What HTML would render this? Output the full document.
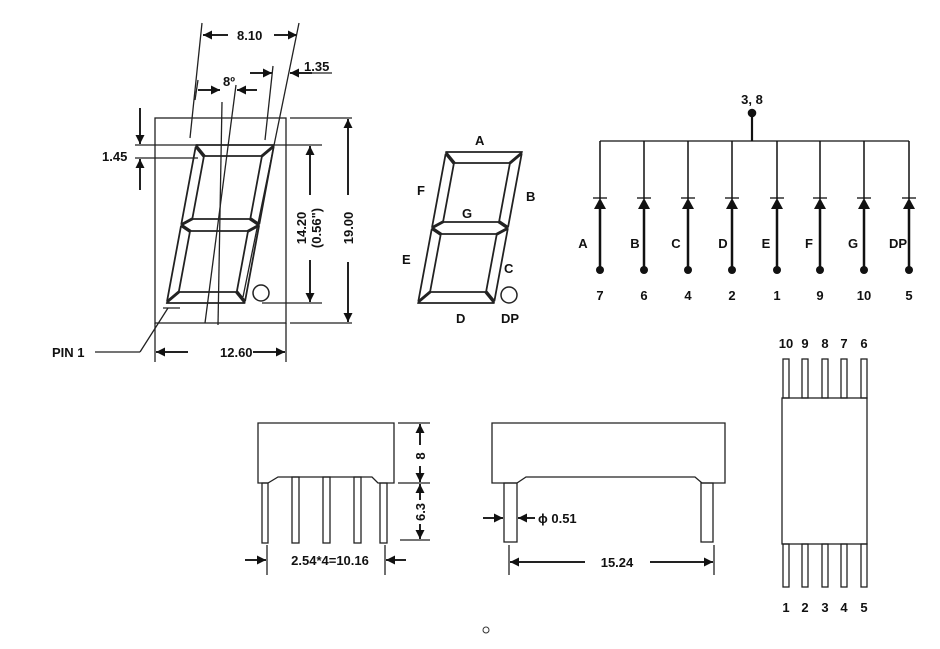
<!DOCTYPE html>
<html><head><meta charset="utf-8"><style>
html,body{margin:0;padding:0;background:#fff;}
svg{display:block;}
text{font-family:"Liberation Sans",Arial,sans-serif;font-weight:bold;font-size:13px;fill:#111;}
</style></head><body>
<svg width="940" height="649" viewBox="0 0 940 649" xmlns="http://www.w3.org/2000/svg">
<defs>
<marker id="ar" viewBox="0 0 10 10" refX="10" refY="5" markerWidth="11" markerHeight="9" markerUnits="userSpaceOnUse" orient="auto">
<path d="M0,0 L10,5 L0,10 z" fill="#111"/></marker>
</defs>
<g stroke="#222" fill="none" stroke-width="1.3">
<rect x="155" y="118" width="131" height="205"/>
</g>
<g transform="translate(196,145) skewX(-10.5)" stroke="#222" stroke-width="1.8" fill="#fff" stroke-linejoin="round">
<polygon points="0,0 78,0 67,11 11,11"/>
<polygon points="0,158 78,158 67,147 11,147"/>
<polygon points="0,2 10,12 10,73 0,79"/>
<polygon points="78,2 78,79 68,73 68,12"/>
<polygon points="0,81 10,87 10,146 0,156"/>
<polygon points="78,81 78,156 68,146 68,87"/>
<polygon points="1,80 11,74 67,74 77,80 67,86 11,86"/>
</g>
<circle cx="261" cy="293" r="8" fill="none" stroke="#222" stroke-width="1.5"/>
<g stroke="#222" stroke-width="1.3" fill="none">
<line x1="202" y1="23" x2="190" y2="138"/>
<line x1="299" y1="23" x2="243" y2="297"/>
<line x1="222" y1="102" x2="218" y2="325"/>
<line x1="236" y1="85" x2="205" y2="323"/>
<line x1="273" y1="66" x2="265" y2="140"/>
<line x1="198" y1="80" x2="195" y2="100"/>
<line x1="135" y1="145" x2="198" y2="145"/>
<line x1="135" y1="158" x2="198" y2="158"/>
<line x1="140" y1="108" x2="140" y2="144" marker-end="url(#ar)" stroke-width="2"/>
<line x1="140" y1="190" x2="140" y2="159" marker-end="url(#ar)" stroke-width="2"/>
<line x1="273" y1="145" x2="322" y2="145"/>
<line x1="262" y1="303" x2="322" y2="303"/>
<line x1="310" y1="195" x2="310" y2="146" marker-end="url(#ar)" stroke-width="2"/>
<line x1="310" y1="260" x2="310" y2="302" marker-end="url(#ar)" stroke-width="2"/>
<line x1="290" y1="118" x2="352" y2="118"/>
<line x1="290" y1="323" x2="352" y2="323"/>
<line x1="348" y1="195" x2="348" y2="119" marker-end="url(#ar)" stroke-width="2"/>
<line x1="348" y1="262" x2="348" y2="322" marker-end="url(#ar)" stroke-width="2"/>
<line x1="155" y1="323" x2="155" y2="362"/>
<line x1="286" y1="323" x2="286" y2="362"/>
<line x1="188" y1="352" x2="156" y2="352" marker-end="url(#ar)" stroke-width="2"/>
<line x1="253" y1="352" x2="285" y2="352" marker-end="url(#ar)" stroke-width="2"/>
<line x1="228" y1="35" x2="203" y2="35" marker-end="url(#ar)" stroke-width="2"/>
<line x1="274" y1="35" x2="297" y2="35" marker-end="url(#ar)" stroke-width="2"/>
<line x1="198" y1="90" x2="220" y2="90" marker-end="url(#ar)" stroke-width="2"/>
<line x1="257" y1="90" x2="237" y2="90" marker-end="url(#ar)" stroke-width="2"/>
<line x1="250" y1="73" x2="272" y2="73" marker-end="url(#ar)" stroke-width="2"/>
<line x1="332" y1="73" x2="300" y2="73"/>
<line x1="312" y1="73" x2="290" y2="73" marker-end="url(#ar)" stroke-width="2"/>
<line x1="95" y1="352" x2="140" y2="352"/>
<line x1="140" y1="352" x2="168" y2="308"/>
<line x1="163" y1="308" x2="180" y2="308"/>
</g>
<text x="237" y="40">8.10</text>
<text x="223" y="86" font-size="12">8º</text>
<text x="304" y="71" font-size="12">1.35</text>
<text x="102" y="161">1.45</text>
<text x="220" y="357">12.60</text>
<text x="52" y="357">PIN 1</text>
<text transform="translate(306,228) rotate(-90)" text-anchor="middle">14.20</text>
<text transform="translate(321,228) rotate(-90)" text-anchor="middle" font-size="12">(0.56")</text>
<text transform="translate(353,228) rotate(-90)" text-anchor="middle">19.00</text>

<g transform="translate(446,152) skewX(-10.5)" stroke="#222" stroke-width="1.8" fill="#fff" stroke-linejoin="round">
<polygon points="0,0 76,0 65,11 11,11"/>
<polygon points="0,151 76,151 65,140 11,140"/>
<polygon points="0,2 10,12 10,69 0,75"/>
<polygon points="76,2 76,75 66,69 66,12"/>
<polygon points="0,77 10,83 10,139 0,149"/>
<polygon points="76,77 76,149 66,139 66,83"/>
<polygon points="1,76 11,70 65,70 75,76 65,82 11,82"/>
</g>
<circle cx="509" cy="295" r="8" fill="none" stroke="#222" stroke-width="1.5"/>
<text x="475" y="145">A</text>
<text x="526" y="201">B</text>
<text x="417" y="195">F</text>
<text x="462" y="218">G</text>
<text x="402" y="264">E</text>
<text x="504" y="273">C</text>
<text x="456" y="323">D</text>
<text x="501" y="323">DP</text>

<g stroke="#111" fill="#111">
<line x1="600" y1="141" x2="909" y2="141" stroke-width="1.3"/>
<line x1="752" y1="141" x2="752" y2="113" stroke-width="2.2"/>
<circle cx="752" cy="113" r="3.8"/>
</g>
<text x="752" y="104" text-anchor="middle">3, 8</text>
<g id="col" stroke="#111" fill="#111">
<line x1="600" y1="141" x2="600" y2="199" stroke-width="1.5"/>
<line x1="593" y1="198" x2="607" y2="198" stroke-width="1.3"/>
<polygon points="600,198 594,209 606,209" stroke="none"/>
<line x1="600" y1="206" x2="600" y2="270" stroke-width="2.5"/>
<circle cx="600" cy="270" r="4" stroke="none"/>
</g>
<use href="#col" x="44"/>
<use href="#col" x="88"/>
<use href="#col" x="132"/>
<use href="#col" x="177"/>
<use href="#col" x="220"/>
<use href="#col" x="264"/>
<use href="#col" x="309"/>
<g text-anchor="middle">
<text x="583" y="248">A</text><text x="635" y="248">B</text><text x="676" y="248">C</text><text x="723" y="248">D</text>
<text x="766" y="248">E</text><text x="809" y="248">F</text><text x="853" y="248">G</text><text x="898" y="248">DP</text>
<text x="600" y="300">7</text><text x="644" y="300">6</text><text x="688" y="300">4</text><text x="732" y="300">2</text>
<text x="777" y="300">1</text><text x="820" y="300">9</text><text x="864" y="300">10</text><text x="909" y="300">5</text>
</g>

<g stroke="#222" stroke-width="1.3" fill="none">
<rect x="782" y="398" width="85" height="146"/>
<rect x="783" y="359" width="6" height="39"/><rect x="802" y="359" width="6" height="39"/><rect x="822" y="359" width="6" height="39"/><rect x="841" y="359" width="6" height="39"/><rect x="861" y="359" width="6" height="39"/>
<rect x="783" y="544" width="6" height="43"/><rect x="802" y="544" width="6" height="43"/><rect x="822" y="544" width="6" height="43"/><rect x="841" y="544" width="6" height="43"/><rect x="861" y="544" width="6" height="43"/>
</g>
<g text-anchor="middle">
<text x="786" y="348">10</text><text x="805" y="348">9</text><text x="825" y="348">8</text><text x="844" y="348">7</text><text x="864" y="348">6</text>
<text x="786" y="612">1</text><text x="805" y="612">2</text><text x="825" y="612">3</text><text x="844" y="612">4</text><text x="864" y="612">5</text>
</g>

<g stroke="#222" stroke-width="1.3" fill="none">
<path d="M258,483 L258,423 L394,423 L394,483 L378,483 L372,477 L278,477 L268,483 Z"/>
<rect x="262" y="483" width="6" height="60"/><rect x="292" y="477" width="7" height="66"/><rect x="323" y="477" width="7" height="66"/><rect x="354" y="477" width="7" height="66"/><rect x="380" y="483" width="7" height="60"/>
<line x1="398" y1="423" x2="430" y2="423"/>
<line x1="398" y1="483" x2="430" y2="483"/>
<line x1="400" y1="540" x2="430" y2="540"/>
<line x1="420" y1="445" x2="420" y2="424" marker-end="url(#ar)" stroke-width="2"/>
<line x1="420" y1="466" x2="420" y2="482" marker-end="url(#ar)" stroke-width="2"/>
<line x1="420" y1="500" x2="420" y2="484" marker-end="url(#ar)" stroke-width="2"/>
<line x1="420" y1="524" x2="420" y2="539" marker-end="url(#ar)" stroke-width="2"/>
<line x1="267" y1="545" x2="267" y2="575"/>
<line x1="385" y1="545" x2="385" y2="575"/>
<line x1="245" y1="560" x2="266" y2="560" marker-end="url(#ar)" stroke-width="2"/>
<line x1="406" y1="560" x2="386" y2="560" marker-end="url(#ar)" stroke-width="2"/>
</g>
<text transform="translate(425,456) rotate(-90)" text-anchor="middle">8</text>
<text transform="translate(425,512) rotate(-90)" text-anchor="middle">6.3</text>
<text x="330" y="565" text-anchor="middle">2.54*4=10.16</text>

<g stroke="#222" stroke-width="1.3" fill="none">
<path d="M492,483 L492,423 L725,423 L725,483 L702,483 L695,477 L526,477 L517,483 Z"/>
<rect x="504" y="483" width="13" height="59"/>
<rect x="701" y="483" width="12" height="59"/>
<line x1="483" y1="518" x2="503" y2="518" marker-end="url(#ar)" stroke-width="2"/>
<line x1="535" y1="518" x2="518" y2="518" marker-end="url(#ar)" stroke-width="2"/>
<line x1="509" y1="545" x2="509" y2="575"/>
<line x1="714" y1="545" x2="714" y2="575"/>
<line x1="585" y1="562" x2="510" y2="562" marker-end="url(#ar)" stroke-width="2"/>
<line x1="650" y1="562" x2="713" y2="562" marker-end="url(#ar)" stroke-width="2"/>
</g>
<text x="538" y="523">ϕ 0.51</text>
<text x="617" y="567" text-anchor="middle">15.24</text>
<circle cx="486" cy="630" r="3" fill="none" stroke="#333" stroke-width="1"/>
</svg>
</body></html>
